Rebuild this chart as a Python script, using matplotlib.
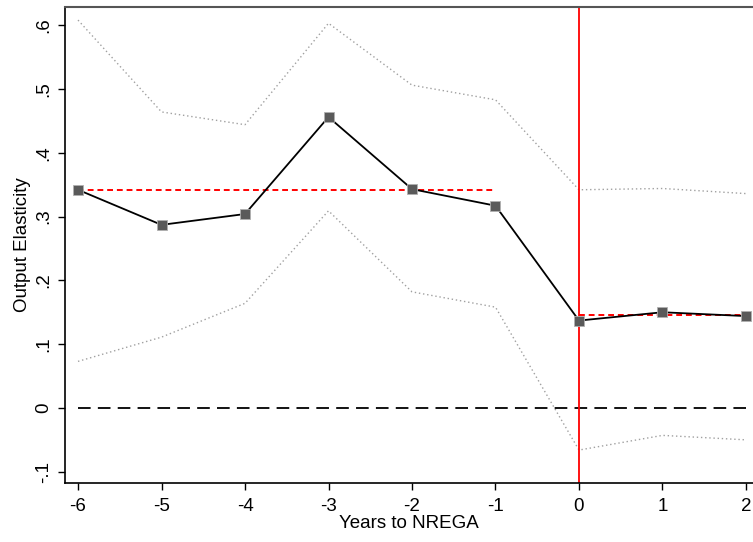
import matplotlib.pyplot as plt

plt.rcParams['font.family'] = ['Liberation Sans', 'DejaVu Sans']

years = [-6, -5, -4, -3, -2, -1, 0, 1, 2]
coef = [0.342, 0.287, 0.304, 0.456, 0.343, 0.317, 0.137, 0.150, 0.144]
upper = [0.608, 0.464, 0.444, 0.603, 0.506, 0.483, 0.342, 0.344, 0.336]
lower = [0.073, 0.111, 0.164, 0.309, 0.182, 0.158, -0.066, -0.043, -0.050]
pre_mean = 0.342
post_mean = 0.145
yticks = [-0.1, 0, 0.1, 0.2, 0.3, 0.4, 0.5, 0.6]
ytick_labels = ['-.1', '0', '.1', '.2', '.3', '.4', '.5', '.6']

fig = plt.figure(figsize=(7.53, 5.42), dpi=100)
ax = fig.add_axes([0.0863, 0.1089, 0.9137, 0.8782])

# confidence bands
ax.plot(years, upper, color='#a0a0a0', linestyle=(0, (1, 2)), linewidth=1)
ax.plot(years, lower, color='#a0a0a0', linestyle=(0, (1, 2)), linewidth=1)
ax.plot([-6, 2], [0, 0], color='black', linestyle=(0, (7, 4)), linewidth=1.3)
ax.axvline(0, color='red', linewidth=1.3)
# pre / post means
ax.plot([-6, -1], [pre_mean, pre_mean], color='red', linestyle=(0, (3, 2)), linewidth=1.4)
ax.plot([0, 2], [post_mean, post_mean], color='red', linestyle=(0, (3, 2)), linewidth=1.4)
ax.plot(years, coef, color='black', linewidth=1.3, marker='s', markersize=7.5,
        markerfacecolor='#5a5a5a', markeredgecolor='#b0b0b0', markeredgewidth=0.6)

ax.set_xlim(-6.156, 2.084)
ax.set_ylim(-0.1176, 0.6285)
ax.set_xticks(years)
ax.set_xticklabels([str(y) for y in years])
ax.set_yticks(yticks)
ax.set_yticklabels(ytick_labels, rotation=90, va='center')
ax.tick_params(direction='out', length=5, width=1, labelsize=13.5, colors='black', pad=4)
ax.tick_params(axis='x', pad=6)
ax.spines['right'].set_visible(False)
ax.spines['top'].set_color('#555555')
ax.spines['top'].set_linewidth(1.5)
ax.spines['left'].set_linewidth(1.2)
ax.spines['bottom'].set_linewidth(1.2)

ax.set_xlabel('Years to NREGA', fontsize=13.5, labelpad=0)
ax.set_ylabel('Output Elasticity', fontsize=13.5, labelpad=3)

fig.savefig('out.png', dpi=100)
